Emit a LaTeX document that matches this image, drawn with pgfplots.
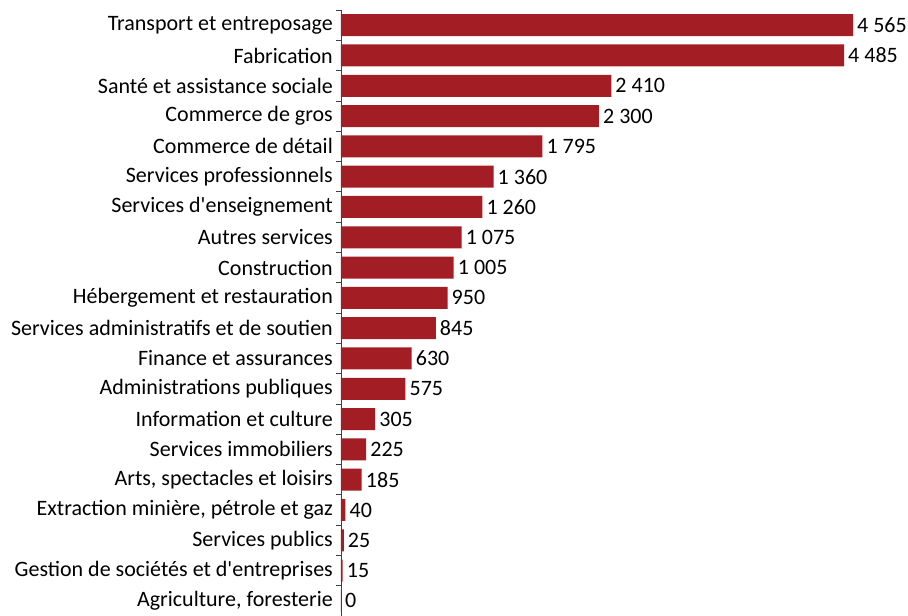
\documentclass[border=0pt]{standalone}
\usepackage{pgfplots}
\pgfplotsset{compat=1.18}
\usepackage{fontspec}
\setmainfont{Carlito}
\definecolor{barred}{RGB}{162,30,36}
\newcommand{\ap}{\textquotesingle{}}
\begin{document}
\begin{tikzpicture}
\fontsize{22pt}{26pt}\selectfont
\begin{axis}[
  at={(0,0)}, anchor=south west,
  scale only axis,
  width=512pt, height=606pt,
  xbar, bar width=22pt,
  xmin=0, xmax=4565,
  ymin=-0.5, ymax=19.5,
  y dir=reverse,
  hide x axis,
  axis y line*=left,
  y axis line style={black!75, line width=0.8pt},
  ytick={0,...,19},
  major tick length=0pt,
  minor ytick={-0.5,0.5,...,19.5},
  minor tick length=5pt,
  tick align=outside,
  minor tick style={black!75, line width=0.8pt},
  yticklabels={Transport et entreposage, Fabrication, Santé et assistance sociale, Commerce de gros, Commerce de détail, Services professionnels, Services d\ap enseignement, Autres services, Construction, Hébergement et restauration, Services administratifs et de soutien, Finance et assurances, Administrations publiques, Information et culture, Services immobiliers, {Arts, spectacles et loisirs}, {Extraction minière, pétrole et gaz}, Services publics, Gestion de sociétés et d\ap entreprises, {Agriculture, foresterie}},
  yticklabel style={font=\fontsize{22pt}{26pt}\selectfont, text=black, inner sep=0pt, xshift=-8pt},
  point meta=explicit symbolic,
  nodes near coords,
  nodes near coords style={font=\fontsize{22pt}{26pt}\selectfont, text=black, anchor=west, inner sep=0pt, xshift=4pt},
  clip=false,
]
\addplot[fill=barred, draw=none] coordinates {
(4565,0) [4 565]
(4485,1) [4 485]
(2410,2) [2 410]
(2300,3) [2 300]
(1795,4) [1 795]
(1360,5) [1 360]
(1260,6) [1 260]
(1075,7) [1 075]
(1005,8) [1 005]
(950,9) [950]
(845,10) [845]
(630,11) [630]
(575,12) [575]
(305,13) [305]
(225,14) [225]
(185,15) [185]
(40,16) [40]
(25,17) [25]
(15,18) [15]
(0,19) [0]
};
\end{axis}
\pgfresetboundingbox
\path (-341pt,0pt) rectangle (567pt,616pt);
\end{tikzpicture}
\end{document}
